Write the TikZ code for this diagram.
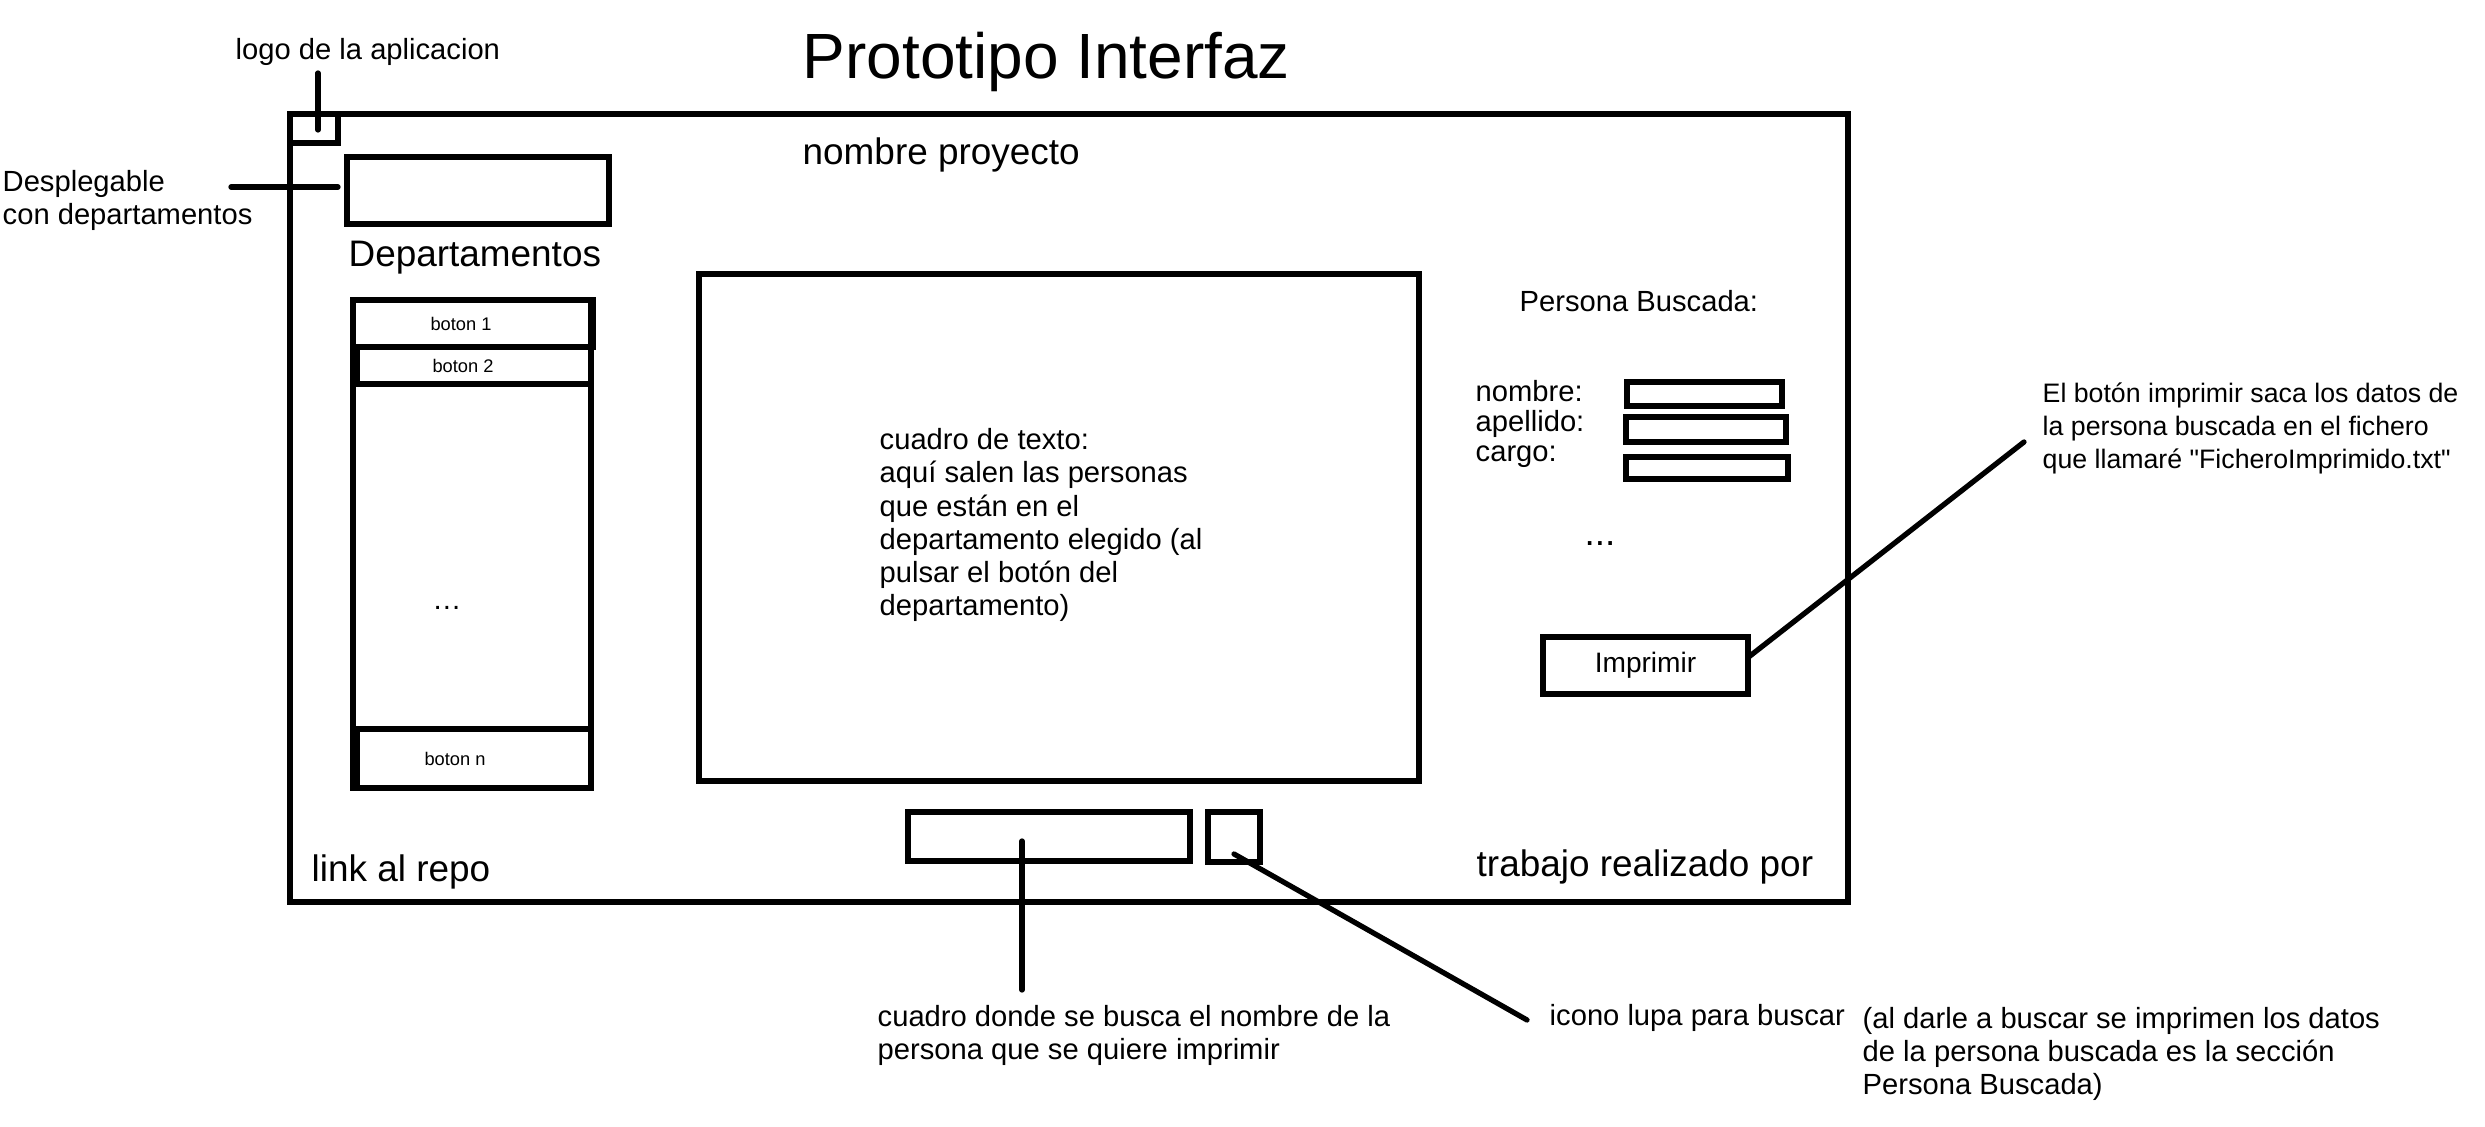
\documentclass[tikz,border=0pt]{standalone}
\usepackage{fontspec}
\setmainfont{Liberation Sans}
\usepackage{tikz}
\usetikzlibrary{positioning}

\begin{document}
\begin{tikzpicture}
    % Define styles for the nodes
    \tikzstyle{box} = [
        rectangle, draw, line width=1.5pt, inner sep=0, outer sep=0
    ]
    \tikzstyle{txt} = [
        inner sep=0, anchor=west, align=left,
        font=\fontsize{8.3}{9.4}\selectfont
    ]
    \tikzstyle{bigtxt} = [
        inner sep=0, anchor=west, font=\fontsize{10.5}{12.6}\selectfont
    ]
    \tikzstyle{boton} = [box, minimum width=2.34cm]
    \tikzstyle{botontxt} = [inner sep=0, font=\fontsize{5.2}{6}\selectfont]
    \tikzstyle{line} = [line width=1.5pt, line cap=round]

    \useasboundingbox (0,0) rectangle (24.85,-11.27);

    % Title
    \node[
        inner sep=0, anchor=base west, font=\fontsize{18.2}{22}\selectfont
    ] (titulo) at (8.02,-0.79) {Prototipo Interfaz};

    % Window
    \node[box, anchor=north west, minimum width=15.58cm, minimum height=7.88cm]
        (ventana) at (2.90,-1.14) {};
    \node[box, anchor=north west, minimum width=0.48cm, minimum height=0.29cm]
        (logo) at (ventana.north west) {};
    \node[bigtxt] (proyecto) at (8.02,-1.55) {nombre proyecto};

    % Departamentos
    \node[box, anchor=north west, minimum width=2.62cm, minimum height=0.67cm]
        (desplegable) at (3.47,-1.57) {};
    \node[bigtxt] (departamentos) at (3.48,-2.58) {Departamentos};

    \node[box, anchor=north west, minimum width=2.38cm, minimum height=4.88cm]
        (columna) at (3.53,-3.00) {};
    \node[boton, anchor=north west, minimum width=2.40cm, minimum height=0.47cm]
        (boton1) at (columna.north west) {};
    \node[boton, anchor=north east, minimum height=0.37cm]
        (boton2) at (boton1.south -| columna.east) {};
    \node[boton, anchor=south east, minimum height=0.59cm]
        (botonn) at (columna.south east) {};
    \node[botontxt] (boton1_txt) at ([xshift=-0.12cm]boton1.center) {boton 1};
    \node[botontxt] (boton2_txt) at ([xshift=-0.11cm]boton2.center) {boton 2};
    \node[botontxt] (botonn_txt) at ([xshift=-0.19cm]botonn.center) {boton n};
    \node[txt, anchor=center] (puntos_dep) at (4.47,-6.08) {\dots};

    % Cuadro de texto
    \node[box, anchor=north west, minimum width=7.20cm, minimum height=5.07cm]
        (cuadro) at (6.99,-2.74) {};
    \node[txt] (cuadro_txt) at (8.79,-5.25) {cuadro de texto:\\aquí salen las personas\\que están en el\\departamento elegido (al\\pulsar el botón del\\departamento)};

    % Persona Buscada
    \node[txt] (persona) at (15.19,-3.01) {Persona Buscada:};
    \node[txt] (nombre) at (14.75,-3.91) {nombre:};
    \node[txt] (apellido) at (14.75,-4.24) {apellido:};
    \node[txt] (cargo) at (14.75,-4.57) {cargo:};
    \node[box, anchor=north west, minimum width=1.55cm, minimum height=0.24cm]
        (campo_nombre) at (16.27,-3.82) {};
    \node[box, anchor=north west, minimum width=1.60cm, minimum height=0.25cm]
        (campo_apellido) at (16.26,-4.17) {};
    \node[box, anchor=north west, minimum width=1.62cm, minimum height=0.22cm]
        (campo_cargo) at (16.26,-4.57) {};
    \node[bigtxt, anchor=center] (puntos_per) at (16.00,-5.44) {...};
    \node[
        box, anchor=north west, minimum width=2.05cm, minimum height=0.57cm,
        font=\fontsize{8}{9.4}\selectfont
    ] (imprimir) at (15.43,-6.37) {Imprimir};

    % Busqueda
    \node[box, anchor=north west, minimum width=2.82cm, minimum height=0.49cm]
        (busqueda) at (9.08,-8.12) {};
    \node[box, anchor=north west, minimum width=0.52cm, minimum height=0.50cm]
        (lupa) at (12.08,-8.12) {};
    \node[bigtxt] (repo) at (3.11,-8.72) {link al repo};
    \node[bigtxt] (autores) at (14.76,-8.67) {trabajo realizado por};

    % Annotations
    \node[txt] (logo_txt) at (2.35,-0.52) {logo de la aplicacion};
    \node[txt] (despl_txt) at (0.02,-2.00) {Desplegable\\con departamentos};
    \node[txt, font=\fontsize{7.6}{9.4}\selectfont] (imprimir_txt)
        at (20.42,-4.28) {El botón imprimir saca los datos de\\la persona buscada en el fichero\\que llamaré \textquotedbl FicheroImprimido.txt\textquotedbl};
    \node[txt] (busqueda_txt) at (8.77,-10.35) {cuadro donde se busca el nombre de la\\persona que se quiere imprimir};
    \node[txt] (lupa_txt) at (15.49,-10.18) {icono lupa para buscar};
    \node[txt] (nota_txt) at (18.62,-10.54) {(al darle a buscar se imprimen los datos\\de la persona buscada es la sección\\Persona Buscada)};

    % Connectors
    \coordinate (logo_a) at (3.18,-0.73);
    \coordinate (logo_b) at (3.18,-1.30);
    \draw[line] (logo_a) -- (logo_b);

    \coordinate (despl_a) at (2.31,-1.87);
    \coordinate (despl_b) at (3.38,-1.87);
    \draw[line] (despl_a) -- (despl_b);

    \coordinate (busqueda_a) at (10.22,-8.41);
    \coordinate (busqueda_b) at (10.22,-9.90);
    \draw[line] (busqueda_a) -- (busqueda_b);

    \coordinate (lupa_a) at (12.34,-8.54);
    \coordinate (lupa_b) at (15.27,-10.20);
    \draw[line] (lupa_a) -- (lupa_b);

    \coordinate (imprimir_b) at (20.24,-4.42);
    \draw[line] ([yshift=0.08cm]imprimir.east) -- (imprimir_b);

\end{tikzpicture}
\end{document}
